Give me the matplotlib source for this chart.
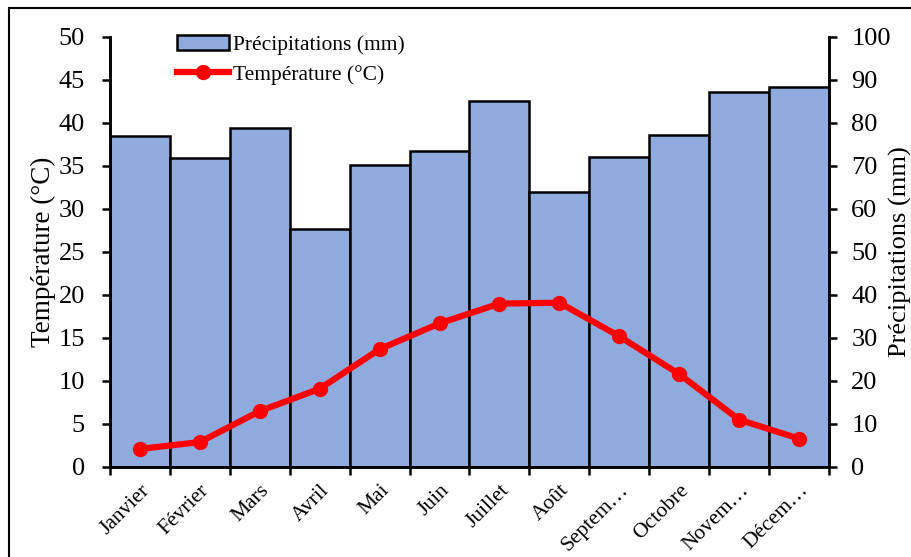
import numpy as np
import matplotlib
matplotlib.use('Agg')
import matplotlib.pyplot as plt
from matplotlib.patches import Rectangle

plt.rcParams['font.family'] = ['Liberation Serif', 'DejaVu Serif']

# 数据
mois = ['Janvier', 'Février', 'Mars', 'Avril', 'Mai', 'Juin', 'Juillet', 'Août',
        'Septem…', 'Octobre', 'Novem…', 'Décem…']
precip = [77.0, 71.9, 78.8, 55.3, 70.2, 73.5, 85.1, 64.0, 72.1, 77.2, 87.2, 88.4]
temp = [2.1, 2.9, 6.5, 9.1, 13.7, 16.7, 19.0, 19.1, 15.2, 10.8, 5.5, 3.3]

fig = plt.figure(figsize=(9.12, 5.57), dpi=100)
ax = fig.add_axes([0.1206, 0.1616, 0.7884, 0.772])
ax2 = ax.twinx()

x = np.arange(len(mois))

# 降水柱状图 (右轴)
bars = ax2.bar(x, precip, width=1.0, color='#8FAADC', edgecolor='black',
               linewidth=1.8, zorder=1)
ax2.set_ylim(0, 100)
ax2.set_yticks(range(0, 101, 10))

# 温度折线 (左轴), 放在上层
ax.set_zorder(ax2.get_zorder() + 1)
ax.patch.set_visible(False)
line, = ax.plot(x, temp, color='#FF0000', linewidth=4.5, marker='o',
                markersize=10)
ax.set_ylim(0, 50)
ax.set_yticks(range(0, 51, 5))
ax.set_xlim(-0.5, len(mois) - 0.5)

# x 刻度在柱子边界, 标签在柱子中心
ax.set_xticks(np.arange(-0.5, len(mois), 1.0))
ax.set_xticklabels([])
ax.set_xticks(x, minor=True)
ax.set_xticklabels(mois, minor=True, rotation=45, ha='right', rotation_mode='anchor',
                   fontsize=15.5)
ax.tick_params(axis='x', which='minor', length=0, pad=10)
ax.tick_params(axis='x', which='major', direction='out', length=6, width=1.8)
ax.tick_params(axis='y', direction='out', length=6, width=1.8, labelsize=19, pad=12)
ax2.tick_params(axis='y', direction='out', length=6, width=1.8, labelsize=19, pad=10)

for a in (ax, ax2):
    a.spines['top'].set_visible(False)
    for s in ('left', 'right', 'bottom'):
        a.spines[s].set_linewidth(1.8)

ax.set_ylabel('Température (°C)', fontsize=19.5, labelpad=2)
ax2.set_ylabel('Précipitations (mm)', fontsize=19)
ax2.yaxis.set_label_coords(1.083, 0.5)

fig.legend([bars, line], ['Précipitations (mm)', 'Température (°C)'],
           loc='upper left', bbox_to_anchor=(177 / 912, 1 - 35 / 557), frameon=False,
           fontsize=15.5, handlelength=2.4, handletextpad=0.2, borderaxespad=0,
           borderpad=0, labelspacing=0.45)

# 外框
fig.patches.append(Rectangle((9 / 912, -0.05), 1.0, 1.05 - 8 / 557, transform=fig.transFigure,
                             fill=False, edgecolor='black', linewidth=1.5))

plt.savefig('out.png', dpi=100)
